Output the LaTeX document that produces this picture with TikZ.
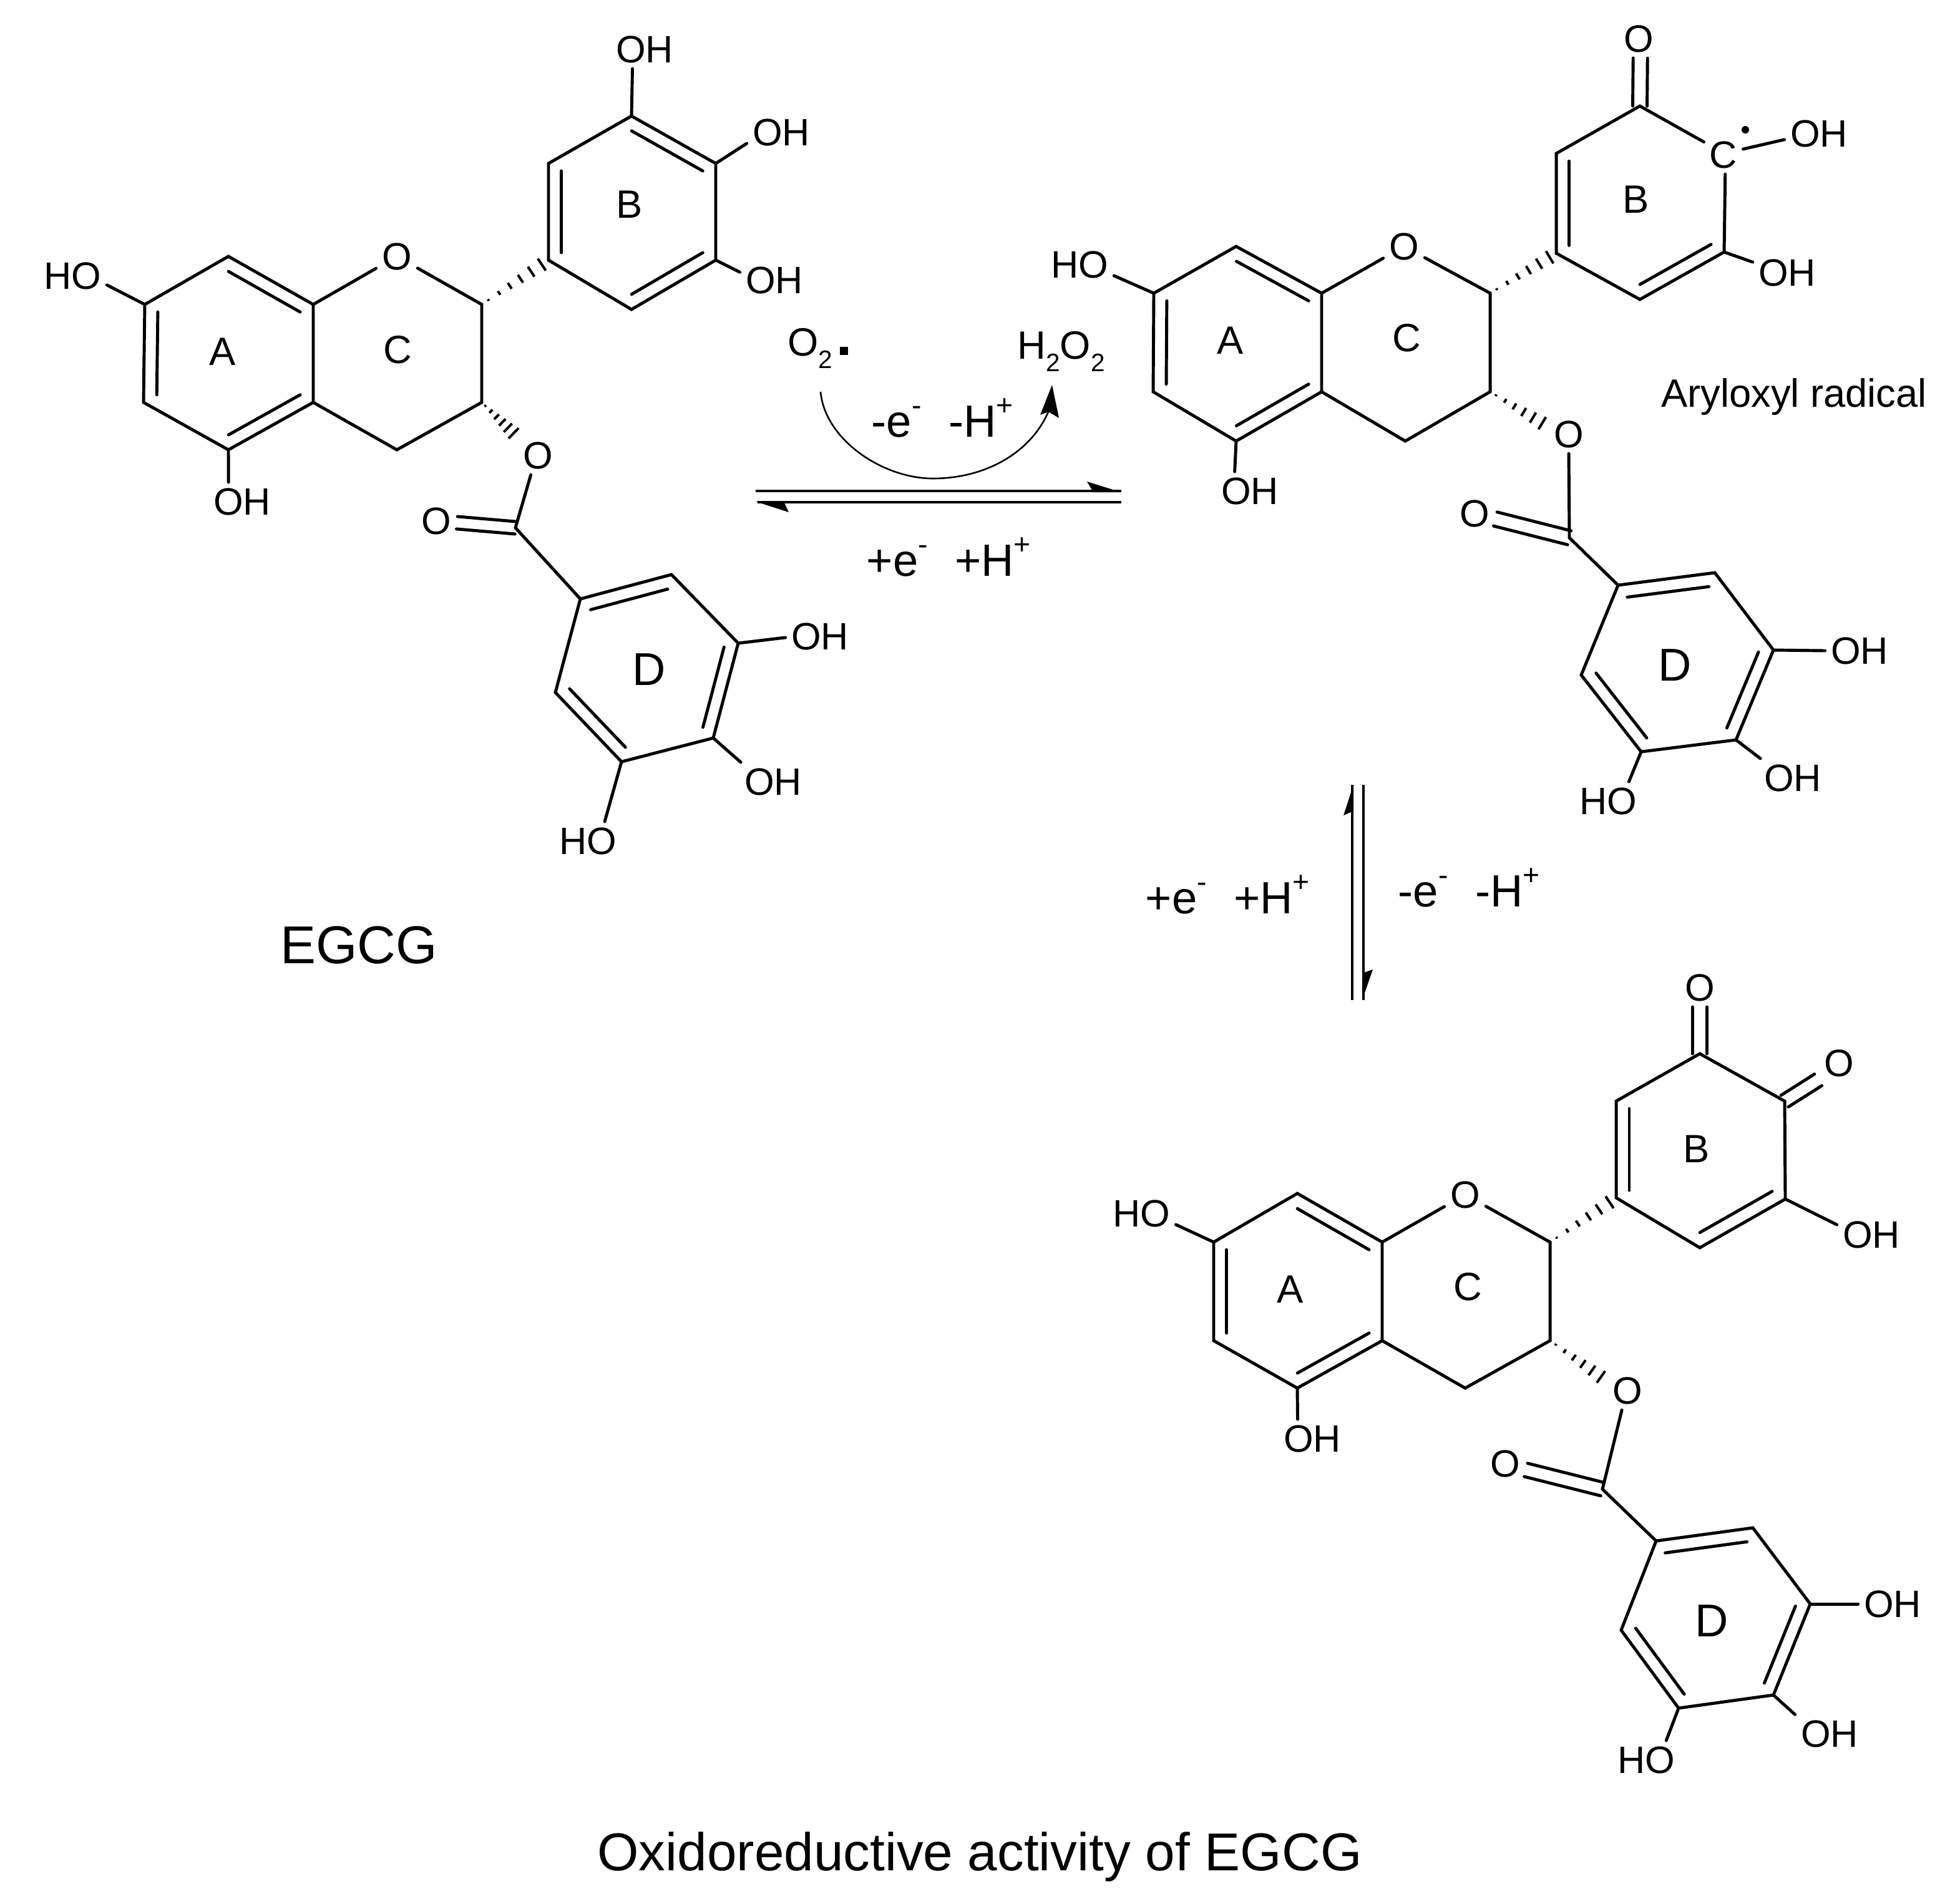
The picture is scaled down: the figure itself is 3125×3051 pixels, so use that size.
\documentclass[tikz,border=0pt]{standalone}
\usepackage{fontspec}
\usepackage{graphicx}
\setmainfont{Liberation Sans}
\usetikzlibrary{calc}
\newcommand{\mysub}[1]{\raisebox{-.32em}{\scalebox{.64}{#1}}}
\newcommand{\mysup}[1]{\raisebox{.47em}{\scalebox{.64}{#1}}}
\newcommand{\innerb}[3]{\draw[bond] ($(#1)!0.155!(#3)$) -- ($(#2)!0.155!(#3)$);}
\newcommand{\dblb}[3]{\draw[bond] ($(#1)!#3 cm!90:(#2)$) -- ($(#2)!#3 cm!-90:(#1)$);\draw[bond] ($(#1)!#3 cm!-90:(#2)$) -- ($(#2)!#3 cm!90:(#1)$);}
\newcommand{\hashb}[2]{\foreach \t/\w in {0.10/0.015,0.26/0.035,0.42/0.055,0.58/0.075,0.74/0.095,0.90/0.115}{\coordinate (hp) at ($(#1)!\t!(#2)$);\draw[hashline] ($(hp)!\w cm!90:(#2)$) -- ($(hp)!\w cm!-90:(#2)$);}}
\tikzset{
  bond/.style={line width=1.4pt,line cap=round,line join=miter,black},
  hashline/.style={line width=1.15pt,black},
  atom/.style={inner sep=2.5pt,font=\fontsize{17.4}{20}\selectfont},
  ringlabel/.style={inner sep=0pt,font=\fontsize{18}{20}\selectfont},
  ringlabeld/.style={inner sep=0pt,font=\fontsize{21}{24}\selectfont},
  rxn/.style={inner sep=0pt,anchor=base west,font=\fontsize{20.6}{24}\selectfont},
  small/.style={inner sep=0pt,anchor=base west,font=\fontsize{18}{22}\selectfont},
  titletext/.style={inner sep=0pt,anchor=base,font=\fontsize{24.3}{28}\selectfont},
  eqline/.style={line width=1.25pt,black},
  thinarrow/.style={line width=0.75pt,black},
  head/.style={fill=black,draw=none},
}
\begin{document}
\begin{tikzpicture}[x=0.01cm,y=-0.01cm]
\useasboundingbox[fill=white] (0,0) rectangle (3125,3051);

% ===== Molecule 1 (EGCG) =====
\foreach \n/\x/\y in {a1/232/488,a2/366/411,a3/502/488,a4/502/645,a5/366/721,a6/230/645,
 c2/772/488,c3/772/645,c4/636/721,
 b1/879/417,b2/879/262,b3/1012/186,b4/1147/262,b5/1147/417,b6/1012/496,
 cc/826/846,d1/930/960,d2/1076/921,d3/1183/1031,d4/1143/1183,d5/996/1221,d6/890/1110}
 {\coordinate (m\n) at (\x,\y);}
\coordinate (mca) at ($(ma1)!.5!(ma4)$);
\coordinate (mcb) at ($(mb1)!.5!(mb4)$);
\coordinate (mcd) at ($(md1)!.5!(md4)$);
\node[atom] (mo) at (636,411) {O};
\node[atom] (moh1) at (1033,79) {OH};
\node[atom] (moh2) at (1252,212) {OH};
\node[atom] (moh3) at (1241,449) {OH};
\node[atom] (mho4) at (116,442) {HO};
\node[atom] (moh5) at (388,804) {OH};
\node[atom] (moe) at (862,730) {O};
\node[atom] (moc) at (699,835) {O};
\node[atom] (moh6) at (1314,1020) {OH};
\node[atom] (moh7) at (1239,1253) {OH};
\node[atom] (mho8) at (942,1348) {HO};
\node[ringlabel] (mla) at (357,564) {A};
\node[ringlabel] (mlc) at (637,561) {C};
\node[ringlabel] (mlb) at (1009,328) {B};
\node[ringlabeld] (mld) at (1040,1073) {D};
\draw[bond] (ma1)--(ma2)--(ma3)--(ma4)--(ma5)--(ma6)--cycle;
\draw[bond] (ma3)--(mo)--(mc2)--(mc3)--(mc4)--(ma4);
\draw[bond] (mb1)--(mb2)--(mb3)--(mb4)--(mb5)--(mb6)--cycle;
\draw[bond] (md1)--(md2)--(md3)--(md4)--(md5)--(md6)--cycle;
\innerb{ma2}{ma3}{mca}\innerb{ma6}{ma1}{mca}\innerb{ma4}{ma5}{mca}
\innerb{mb1}{mb2}{mcb}\innerb{mb3}{mb4}{mcb}\innerb{mb5}{mb6}{mcb}
\innerb{md1}{md2}{mcd}\innerb{md3}{md4}{mcd}\innerb{md5}{md6}{mcd}
\draw[bond] (mb3)--(moh1.-122);
\draw[bond] (mb4)--(moh2.-162);
\draw[bond] (mb5)--(moh3.167);
\draw[bond] (ma1)--(mho4.-15);
\draw[bond] (ma5)--(moh5.125);
\draw[bond] (moe.-110)--(mcc);
\dblb{moc.-5}{mcc}{0.1}
\draw[bond] (mcc)--(md1);
\draw[bond] (md3)--(moh6.182);
\draw[bond] (md4)--(moh7.149);
\draw[bond] (md5)--(mho8.49);
\hashb{mc2}{mb1}
\hashb{mc3}{moe.138}

% ===== Molecule 2 (aryloxyl radical) =====
\foreach \n/\x/\y in {a1/1849/470,a2/1981/395,a3/2118/470,a4/2118/628,a5/1981/707,a6/1848/628,
 c2/2388/470,c3/2388/628,c4/2252/707,
 b1/2494/406,b2/2494/246,b3/2628/170,b5/2763/404,b6/2628/480,
 cc/2515/862,d1/2593/938,d2/2748/918,d3/2842/1042,d4/2782/1186,d5/2630/1205,d6/2534/1082}
 {\coordinate (n\n) at (\x,\y);}
\coordinate (nca) at ($(na1)!.5!(na4)$);
\coordinate (ncb) at (2628,325);
\coordinate (ncd) at ($(nd1)!.5!(nd4)$);
\node[atom] (no) at (2250,395) {O};
\node[atom] (no1) at (2626,62) {O};
\node[atom] (nrc) at (2762,248) {C};
\node[circle,fill=black,inner sep=0pt,minimum size=0.12cm] (ndot) at (2797,208) {};
\node[atom] (noh2) at (2915,214) {OH};
\node[atom] (noh3) at (2864,437) {OH};
\node[atom] (nho4) at (1730,424) {HO};
\node[atom] (noh5) at (2003,787) {OH};
\node[atom] (noe) at (2514,696) {O};
\node[atom] (noc) at (2363,823) {O};
\node[atom] (noh6) at (2980,1043) {OH};
\node[atom] (noh7) at (2873,1247) {OH};
\node[atom] (nho8) at (2577,1284) {HO};
\node[ringlabel] (nla) at (1972,546) {A};
\node[ringlabel] (nlc) at (2254,542) {C};
\node[ringlabel] (nlb) at (2622,320) {B};
\node[ringlabeld] (nld) at (2684,1066) {D};
\node[small,anchor=center] (nary) at (2875,636) {Aryloxyl radical};
\draw[bond] (na1)--(na2)--(na3)--(na4)--(na5)--(na6)--cycle;
\draw[bond] (na3)--(no)--(nc2)--(nc3)--(nc4)--(na4);
\draw[bond] (nb5)--(nb6)--(nb1)--(nb2)--(nb3)--(nrc.147);
\draw[bond] (nrc.-85)--(nb5);
\draw[bond] (nrc.16)--(noh2.-170);
\draw[bond] (nd1)--(nd2)--(nd3)--(nd4)--(nd5)--(nd6)--cycle;
\innerb{na2}{na3}{nca}\innerb{na6}{na1}{nca}\innerb{na4}{na5}{nca}
\innerb{nb1}{nb2}{ncb}\innerb{nb5}{nb6}{ncb}
\innerb{nd1}{nd2}{ncd}\innerb{nd3}{nd4}{ncd}\innerb{nd5}{nd6}{ncd}
\dblb{no1.-85}{nb3}{0.115}
\draw[bond] (nb5)--(noh3.163);
\draw[bond] (na1)--(nho4.-18);
\draw[bond] (na5)--(noh5.128);
\draw[bond] (noe.-90)--(ncc);
\dblb{noc.-15}{ncc}{0.115}
\draw[bond] (ncc)--(nd1);
\draw[bond] (nd3)--(noh6.180);
\draw[bond] (nd4)--(noh7.149);
\draw[bond] (nd5)--(nho8.43);
\hashb{nc2}{nb1}
\hashb{nc3}{noe.160}

% ===== Molecule 3 (quinone) =====
\foreach \n/\x/\y in {a1/1945/1991,a2/2079/1913,a3/2215/1991,a4/2215/2149,a5/2079/2225,a6/1945/2149,
 c2/2484/1991,c3/2484/2149,c4/2348/2225,
 b1/2590/1920,b2/2590/1765,b3/2724/1689,b4/2860/1765,b5/2861/1922,b6/2724/2000,
 cc/2568/2387,d1/2654/2470,d2/2809/2449,d3/2901/2571,d4/2842/2717,d5/2690/2738,d6/2598/2613}
 {\coordinate (p\n) at (\x,\y);}
\coordinate (pca) at ($(pa1)!.5!(pa4)$);
\coordinate (pcb) at ($(pb1)!.5!(pb4)$);
\coordinate (pcd) at ($(pd1)!.5!(pd4)$);
\node[atom] (po) at (2348,1915) {O};
\node[atom] (po1) at (2724,1583) {O};
\node[atom] (po2) at (2947,1704) {O};
\node[atom] (poh3) at (2999,1979) {OH};
\node[atom] (pho4) at (1829,1945) {HO};
\node[atom] (poh5) at (2103,2306) {OH};
\node[atom] (poe) at (2608,2229) {O};
\node[atom] (poc) at (2412,2346) {O};
\node[atom] (poh6) at (3033,2571) {OH};
\node[atom] (poh7) at (2932,2779) {OH};
\node[atom] (pho8) at (2638,2821) {HO};
\node[ringlabel] (pla) at (2068,2067) {A};
\node[ringlabel] (plc) at (2352,2063) {C};
\node[ringlabel] (plb) at (2719,1842) {B};
\node[ringlabeld] (pld) at (2743,2598) {D};
\draw[bond] (pa1)--(pa2)--(pa3)--(pa4)--(pa5)--(pa6)--cycle;
\draw[bond] (pa3)--(po)--(pc2)--(pc3)--(pc4)--(pa4);
\draw[bond] (pb1)--(pb2)--(pb3)--(pb4)--(pb5)--(pb6)--cycle;
\draw[bond] (pd1)--(pd2)--(pd3)--(pd4)--(pd5)--(pd6)--cycle;
\innerb{pa2}{pa3}{pca}\innerb{pa6}{pa1}{pca}\innerb{pa4}{pa5}{pca}
\innerb{pb1}{pb2}{pcb}\innerb{pb5}{pb6}{pcb}
\innerb{pd1}{pd2}{pcd}\innerb{pd3}{pd4}{pcd}\innerb{pd5}{pd6}{pcd}
\dblb{po1.-90}{pb3}{0.115}
\dblb{po2.-141}{pb4}{0.11}
\draw[bond] (pb5)--(poh3.164);
\draw[bond] (pa1)--(pho4.-18);
\draw[bond] (pa5)--(poh5.127);
\draw[bond] (poe.-106)--(pcc);
\dblb{poc.-17}{pcc}{0.11}
\draw[bond] (pcc)--(pd1);
\draw[bond] (pd3)--(poh6.180);
\draw[bond] (pd4)--(poh7.151);
\draw[bond] (pd5)--(pho8.44);
\hashb{pc2}{pb1}
\hashb{pc3}{poe.155}

% ===== Reaction arrows and labels =====
\coordinate (h1l) at (1211,787); \coordinate (h1r) at (1797,787);
\coordinate (h2l) at (1214,805); \coordinate (h2r) at (1797,805);
\draw[eqline] (h1l)--(h1r);
\fill[head] (1797,789)--(1742,772)--(1752,789)--cycle;
\draw[eqline] (h2r)--(h2l);
\fill[head] (1211,804)--(1264,821)--(1256,804)--cycle;
\coordinate (v1t) at (2167,1258); \coordinate (v1b) at (2167,1603);
\coordinate (v2t) at (2185,1258); \coordinate (v2b) at (2185,1603);
\draw[eqline] (v1b)--(v1t);
\fill[head] (2169,1258)--(2153,1307)--(2169,1300)--cycle;
\draw[eqline] (v2t)--(v2b);
\fill[head] (2183,1603)--(2200,1554)--(2183,1560)--cycle;

\coordinate (cvs) at (1315,628); \coordinate (cvm) at (1495,767); \coordinate (cve) at (1680,660);
\draw[thinarrow] (cvs) .. controls (1322,705) and (1415,767) .. (cvm) .. controls (1580,767) and (1652,725) .. (cve);
\fill[head] (1686,617)--(1697,670)--(1680,660)--(1667,665)--cycle;

\node[small] (o2) at (1262,570) {O\mysub{2}};
\node[fill=black,inner sep=0pt,minimum size=0.13cm] (o2dot) at (1352,562) {};
\node[small] (h2o2) at (1630,575) {H\mysub{2}O\mysub{2}};
\node[rxn] (r1) at (1396,700) {-e\mysup{-}\hspace{.6em}-H\mysup{+}};
\node[rxn] (r2) at (1388,923) {+e\mysup{-}\hspace{.6em}+H\mysup{+}};
\node[rxn] (r3) at (1835,1464) {+e\mysup{-}\hspace{.6em}+H\mysup{+}};
\node[rxn] (r4) at (2240,1453) {-e\mysup{-}\hspace{.6em}-H\mysup{+}};
\node[titletext] (t1) at (575,1544) {EGCG};
\node[titletext] (t2) at (1570,2998) {Oxidoreductive activity of EGCG};
\end{tikzpicture}
\end{document}
